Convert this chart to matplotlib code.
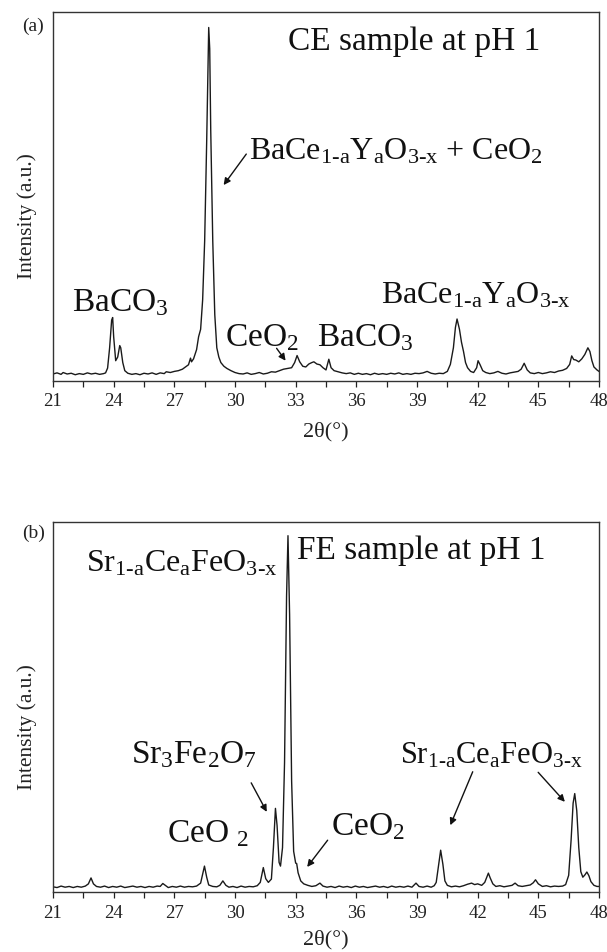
import matplotlib
matplotlib.use("Agg")
import matplotlib.pyplot as plt
from matplotlib.ticker import MultipleLocator

plt.rcParams['font.family'] = ['Liberation Serif', 'DejaVu Serif']
plt.rcParams['mathtext.fontset'] = 'custom'
plt.rcParams['mathtext.rm'] = 'Liberation Serif'
plt.rcParams['mathtext.it'] = 'Liberation Serif:italic'
plt.rcParams['mathtext.bf'] = 'Liberation Serif:bold'

# ---------------- data: panel (a) CE sample ----------------
two_theta_a = [21.0, 21.2, 21.4, 21.5, 21.7, 21.9, 22.1, 22.3, 22.5, 22.7, 22.9, 23.1, 23.3, 23.5, 23.6,
               23.7, 23.8, 23.9, 23.95, 24.0, 24.1, 24.2, 24.3, 24.35, 24.45, 24.55, 24.7, 24.9, 25.1,
               25.3, 25.5, 25.7, 25.9, 26.1, 26.3, 26.5, 26.6, 26.8, 27.0, 27.2, 27.4, 27.6, 27.7, 27.8,
               27.85, 27.95, 28.1, 28.2, 28.3, 28.4, 28.5, 28.6, 28.7, 28.75, 28.8, 28.9, 29.0, 29.1,
               29.2, 29.3, 29.45, 29.6, 29.8, 30.0, 30.2, 30.4, 30.6, 30.8, 31.0, 31.2, 31.4, 31.6, 31.8,
               32.0, 32.2, 32.4, 32.6, 32.8, 32.95, 33.07, 33.2, 33.35, 33.5, 33.65, 33.8, 33.9, 34.05,
               34.2, 34.35, 34.5, 34.64, 34.75, 34.9, 35.1, 35.3, 35.5, 35.7, 35.9, 36.1, 36.3, 36.5,
               36.7, 36.9, 37.1, 37.3, 37.5, 37.7, 37.9, 38.1, 38.3, 38.5, 38.7, 38.9, 39.1, 39.3, 39.5,
               39.7, 39.9, 40.1, 40.3, 40.5, 40.65, 40.8, 40.9, 40.98, 41.1, 41.2, 41.3, 41.4, 41.5,
               41.65, 41.8, 41.95, 42.02, 42.12, 42.25, 42.4, 42.6, 42.8, 43.0, 43.2, 43.4, 43.6, 43.8,
               44.0, 44.15, 44.3, 44.45, 44.6, 44.8, 45.0, 45.2, 45.4, 45.6, 45.8, 46.0, 46.2, 46.4,
               46.55, 46.65, 46.75, 46.85, 47.0, 47.15, 47.3, 47.45, 47.55, 47.65, 47.75, 47.9, 48.0]
intensity_a = [1.9, 2.2, 1.8, 2.3, 1.9, 2.1, 1.7, 2.0, 1.8, 2.2, 1.9, 2.1, 1.8, 2.0, 2.2,
               3.5, 9.0, 16.5, 17.2, 12.0, 5.5, 6.5, 9.6, 9.0, 5.0, 2.8, 2.1, 1.8, 2.0,
               1.7, 2.1, 1.9, 2.2, 1.8, 2.2, 2.0, 2.5, 2.3, 2.6, 2.8, 3.2, 4.0, 4.4, 6.2,
               5.2, 6.0, 8.5, 12.0, 14.0, 22.0, 38.0, 65.0, 95.8, 90.0, 68.0, 38.0, 18.0, 9.0,
               6.5, 5.0, 4.0, 3.4, 2.8, 2.3, 2.0, 1.9, 2.2, 1.8, 2.0, 2.3, 1.9, 2.1, 2.5,
               2.4, 2.8, 3.2, 3.4, 3.6, 5.0, 6.9, 5.2, 4.0, 3.8, 4.6, 5.0, 5.2, 4.6,
               4.4, 3.6, 3.0, 5.9, 3.6, 2.8, 2.5, 2.2, 2.0, 2.2, 1.8, 2.1, 1.8, 2.0,
               1.7, 2.1, 1.8, 2.0, 1.8, 2.1, 1.9, 2.2, 1.8, 2.0, 1.8, 2.1, 2.0, 2.2, 2.6,
               2.1, 1.9, 2.1, 2.0, 2.6, 4.5, 9.0, 14.5, 16.8, 14.0, 10.5, 8.0, 5.0, 3.6,
               2.6, 2.3, 3.6, 5.5, 4.4, 2.8, 2.3, 2.0, 2.2, 2.6, 2.1, 1.9, 2.2, 2.4,
               2.6, 3.2, 4.8, 3.0, 2.2, 2.0, 2.3, 2.0, 2.2, 2.5, 2.3, 2.7, 2.9, 3.4,
               4.5, 6.8, 5.8, 5.7, 5.2, 6.0, 7.2, 9.0, 8.0, 5.5, 3.8, 3.0, 2.6]

# ---------------- data: panel (b) FE sample ----------------
two_theta_b = [21.0, 21.2, 21.4, 21.6, 21.8, 22.0, 22.2, 22.4, 22.6, 22.75, 22.88, 23.0, 23.15, 23.35,
               23.55, 23.75, 23.95, 24.15, 24.35, 24.55, 24.75, 24.95, 25.15, 25.35, 25.55, 25.75,
               25.95, 26.15, 26.3, 26.43, 26.55, 26.7, 26.9, 27.1, 27.3, 27.5, 27.7, 27.9, 28.1, 28.3,
               28.4, 28.49, 28.6, 28.7, 28.9, 29.1, 29.25, 29.4, 29.55, 29.7, 29.9, 30.1, 30.3, 30.5,
               30.7, 30.9, 31.1, 31.25, 31.4, 31.52, 31.65, 31.8, 31.9, 32.0, 32.08, 32.18, 32.25,
               32.35, 32.45, 32.55, 32.62, 32.7, 32.8, 32.9, 33.0, 33.05, 33.12, 33.25, 33.4, 33.6,
               33.8, 34.0, 34.2, 34.35, 34.55, 34.75, 34.95, 35.15, 35.35, 35.55, 35.75, 35.95, 36.15,
               36.35, 36.55, 36.75, 36.95, 37.15, 37.35, 37.55, 37.75, 37.95, 38.15, 38.35, 38.55,
               38.75, 38.95, 39.1, 39.3, 39.5, 39.7, 39.85, 39.95, 40.05, 40.17, 40.28, 40.38, 40.5,
               40.7, 40.9, 41.1, 41.3, 41.5, 41.7, 41.85, 42.0, 42.2, 42.35, 42.45, 42.53, 42.62, 42.75,
               42.9, 43.1, 43.3, 43.5, 43.7, 43.85, 44.0, 44.2, 44.4, 44.6, 44.75, 44.86, 45.0, 45.2,
               45.4, 45.6, 45.8, 46.0, 46.2, 46.35, 46.5, 46.62, 46.72, 46.8, 46.9, 47.0, 47.1, 47.2,
               47.3, 47.4, 47.5, 47.6, 47.75, 47.9, 48.0]
intensity_b = [1.4, 1.2, 1.6, 1.3, 1.5, 1.2, 1.5, 1.3, 1.6, 2.2, 3.8, 2.2, 1.5, 1.3,
               1.6, 1.2, 1.5, 1.3, 1.6, 1.2, 1.4, 1.6, 1.3, 1.5, 1.2, 1.5,
               1.3, 1.6, 1.5, 2.3, 1.8, 1.2, 1.5, 1.3, 1.6, 1.3, 1.5, 1.4, 1.6, 2.4,
               4.8, 7.0, 4.0, 1.9, 1.5, 1.4, 1.8, 3.0, 1.8, 1.3, 1.5, 1.2, 1.6, 1.3,
               1.5, 1.4, 1.7, 2.6, 6.6, 3.6, 2.6, 3.5, 12.0, 22.6, 18.0, 8.0, 7.0,
               12.0, 35.0, 80.0, 96.3, 75.0, 30.0, 11.0, 7.8, 7.7, 5.2, 3.0, 2.2, 1.8,
               1.5, 1.7, 2.4, 1.6, 1.3, 1.5, 1.2, 1.6, 1.3, 1.5, 1.2, 1.6, 1.3,
               1.5, 1.2, 1.4, 1.6, 1.3, 1.5, 1.2, 1.6, 1.3, 1.5, 1.3, 1.6,
               1.3, 2.4, 1.5, 1.3, 1.6, 1.3, 1.7, 2.6, 6.5, 11.3, 7.5, 3.0, 1.8,
               1.4, 1.6, 1.4, 1.7, 2.1, 2.4, 2.0, 2.2, 1.8, 2.6, 4.0, 5.1, 3.8, 2.2,
               1.5, 1.7, 1.4, 1.6, 1.8, 2.4, 1.7, 1.5, 1.7, 1.9, 2.5, 3.3, 2.2, 1.5,
               1.7, 1.4, 1.6, 1.5, 1.6, 2.0, 4.5, 14.0, 24.0, 26.6, 22.0, 12.0, 5.5, 4.0,
               4.6, 5.4, 4.4, 2.8, 1.8, 1.5, 1.5]

x_ticks = [21, 24, 27, 30, 33, 36, 39, 42, 45, 48]
x_tick_labels = ['21', '24', '27', '30', '33', '36', '39', '42', '45', '48']

W, H = 607, 952
fig = plt.figure(figsize=(W / 100, H / 100), dpi=100)

def axes_box(left, top, right, bottom):
    return [left / W, 1 - bottom / H, (right - left) / W, (bottom - top) / H]

ax_a = fig.add_axes(axes_box(53, 12, 599, 381))
ax_b = fig.add_axes(axes_box(53, 522, 599, 892))

BIG = 24

def style(ax, tag, tag_y, xpad):
    ax.set_xlim(21, 48)
    ax.set_ylim(0, 100)
    ax.set_xticks(x_ticks)
    ax.set_xticklabels(x_tick_labels)
    ax.xaxis.set_minor_locator(MultipleLocator(1.5))
    ax.tick_params(axis='x', which='both', direction='out', length=4, width=0.9,
                   top=False, labelsize=13.5, pad=5, colors='#222222')
    ax.tick_params(axis='y', left=False, labelleft=False)
    for s in ax.spines.values():
        s.set_linewidth(1.0)
        s.set_color('#333333')
    ax.set_xlabel('2θ(°)', fontsize=16, labelpad=xpad, color='#222222')
    ax.set_ylabel('Intensity (a.u.)', fontsize=15.5, color='#222222')
    ax.yaxis.set_label_coords(-0.03, 0.447)
    ax.text(-0.036, tag_y, tag, transform=ax.transAxes, ha='center', va='center',
            fontsize=14, color='#222222')

def arrow(ax, start, end):
    ax.annotate('', xy=end, xytext=start, xycoords='axes fraction', textcoords='axes fraction',
                arrowprops=dict(arrowstyle='-|>', color='#111111', lw=1.0,
                                mutation_scale=10, shrinkA=0, shrinkB=0))

def label(ax, x, y, s, size=BIG):
    ax.text(x, y, s, transform=ax.transAxes, ha='left', va='baseline', fontsize=size, color='#111111')

# ----- panel (a)
ax_a.plot(two_theta_a, intensity_a, color='#1a1a1a', lw=1.0)
style(ax_a, '(a)', 0.962, 8)
label(ax_a, 0.431, 0.897, 'CE sample at pH 1')
label(ax_a, 0.359, 0.599, r'BaCe$_{\text{1-a}}$Y$_{\text{a}}$O$_{\text{3-x}}$ + CeO$_{2}$', 23)
arrow(ax_a, (0.354, 0.615), (0.3125, 0.531))
label(ax_a, 0.034, 0.19, r'BaCO$_{3}$')
label(ax_a, 0.315, 0.095, r'CeO$_{2}$')
arrow(ax_a, (0.4095, 0.0886), (0.426, 0.055))
label(ax_a, 0.4835, 0.095, r'BaCO$_{3}$')
label(ax_a, 0.601, 0.21, r'BaCe$_{\text{1-a}}$Y$_{\text{a}}$O$_{\text{3-x}}$', 23)

# ----- panel (b)
ax_b.plot(two_theta_b, intensity_b, color='#1a1a1a', lw=1.0)
style(ax_b, '(b)', 0.968, 6)
label(ax_b, 0.447, 0.90, 'FE sample at pH 1')
label(ax_b, 0.0596, 0.866, r'Sr$_{\text{1-a}}$Ce$_{\text{a}}$FeO$_{\text{3-x}}$', 23)
label(ax_b, 0.142, 0.349, r'Sr$_{3}$Fe$_{2}$O$_{7}$')
arrow(ax_b, (0.363, 0.295), (0.3915, 0.2166))
label(ax_b, 0.208, 0.135, r'CeO $_{2}$')
label(ax_b, 0.51, 0.153, r'CeO$_{2}$')
arrow(ax_b, (0.503, 0.14), (0.4655, 0.0677))
label(ax_b, 0.636, 0.3476, r'Sr$_{\text{1-a}}$Ce$_{\text{a}}$FeO$_{\text{3-x}}$', 22)
arrow(ax_b, (0.7687, 0.325), (0.7277, 0.1805))
arrow(ax_b, (0.8886, 0.3235), (0.9375, 0.2437))

fig.savefig('out.png', dpi=100)
